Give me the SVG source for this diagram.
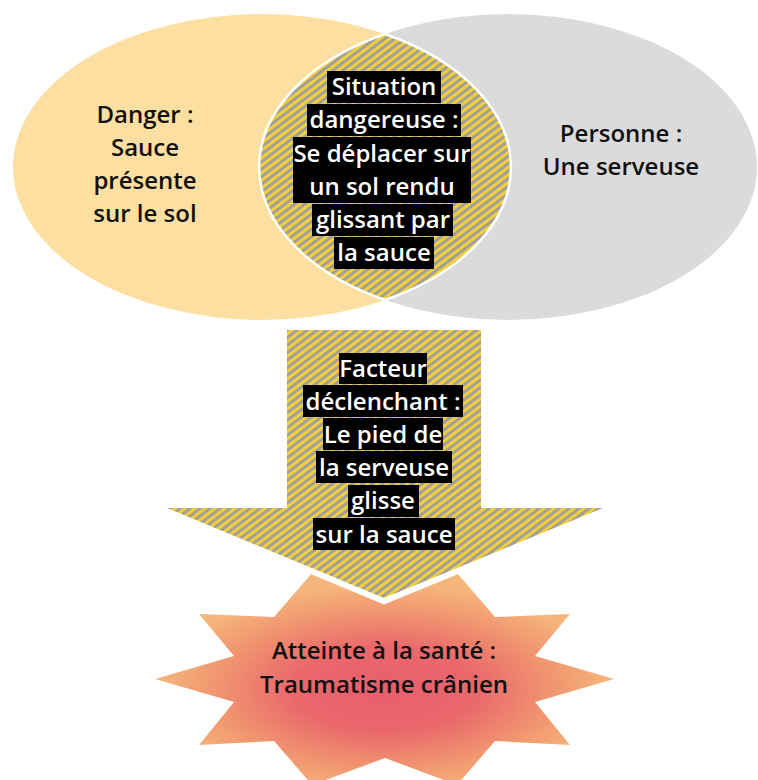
<svg xmlns="http://www.w3.org/2000/svg" width="758" height="780" viewBox="0 0 758 780">
  <defs>
    <pattern id="hatch" width="10" height="6" patternUnits="userSpaceOnUse" patternTransform="rotate(-37)">
      <rect width="10" height="6" fill="#A29F9A"/>
      <rect width="10" height="3" fill="#F1CF3B"/>
    </pattern>
    <radialGradient id="burst" cx="0.5" cy="0.55" r="0.5">
      <stop offset="0" stop-color="#E85E6C"/>
      <stop offset="0.4" stop-color="#EA686C"/>
      <stop offset="0.72" stop-color="#F0946F"/>
      <stop offset="1" stop-color="#F6B67B"/>
    </radialGradient>
    <style>
      .t { font-family: "Open Sans", "Noto Sans", "Liberation Sans", sans-serif; font-weight: 600; font-size: 24px; text-anchor: middle; }
      .dark { fill: #111111; }
      .light { fill: #FFFFFF; }
      .box { fill: #000000; }
    </style>
  </defs>

  <g id="danger">
    <ellipse cx="262" cy="167" rx="249" ry="153" fill="#FDDFA2"/>
    <text class="t dark" x="145" y="123">Danger :</text>
    <text class="t dark" x="145" y="156">Sauce</text>
    <text class="t dark" x="145" y="189">présente</text>
    <text class="t dark" x="145" y="222">sur le sol</text>
  </g>

  <g id="personne">
    <ellipse cx="508" cy="167" rx="249" ry="153" fill="#DBDBDB"/>
    <text class="t dark" x="621" y="142">Personne :</text>
    <text class="t dark" x="621" y="175">Une serveuse</text>
  </g>

  <g id="situation-dangereuse">
    <path d="M385,34 A249,153 0 0 1 385,300 A249,153 0 0 1 385,34 Z" fill="url(#hatch)" stroke="#FFFFFF" stroke-width="2.5"/>
    <rect class="box" x="327" y="71" width="114" height="32"/>
    <rect class="box" x="307" y="104" width="154" height="32"/>
    <rect class="box" x="293" y="137" width="178" height="66"/>
    <rect class="box" x="312" y="204" width="141" height="32"/>
    <rect class="box" x="334" y="237" width="100" height="32"/>
    <text class="t light" x="384" y="95">Situation</text>
    <text class="t light" x="384" y="128">dangereuse :</text>
    <text class="t light" x="382" y="162">Se déplacer sur</text>
    <text class="t light" x="382" y="195">un sol rendu</text>
    <text class="t light" x="383" y="228">glissant par</text>
    <text class="t light" x="384" y="261">la sauce</text>
  </g>

  <g id="atteinte-sante">
    <polygon fill="url(#burst)" points="155,679 234,656 199,614 274,617 312,573 385,600 457,573 495,617 570,614 535,656 614,679 535,702 570,745 495,741 457,785 385,758 312,785 274,741 199,745 234,702"/>
    <text class="t dark" x="384" y="659">Atteinte à la santé :</text>
    <text class="t dark" x="384" y="693">Traumatisme crânien</text>
  </g>

  <g id="connectors">
    <g id="facteur-declenchant">
      <path d="M287,330 L481,330 L481,508 L603,508 L384,598 L167,508 L287,508 Z" fill="none" stroke="#FFFFFF" stroke-width="12" stroke-linejoin="miter"/>
      <path d="M287,330 L481,330 L481,508 L603,508 L384,598 L167,508 L287,508 Z" fill="url(#hatch)"/>
      <rect class="box" x="339" y="353" width="88" height="31"/>
      <rect class="box" x="303" y="385" width="160" height="32"/>
      <rect class="box" x="323" y="418" width="120" height="32"/>
      <rect class="box" x="316" y="451" width="136" height="32"/>
      <rect class="box" x="348" y="485" width="71" height="32"/>
      <rect class="box" x="313" y="518" width="142" height="32"/>
      <text class="t light" x="383" y="377">Facteur</text>
      <text class="t light" x="383" y="410">déclenchant :</text>
      <text class="t light" x="383" y="443">Le pied de</text>
      <text class="t light" x="384" y="476">la serveuse</text>
      <text class="t light" x="383" y="509">glisse</text>
      <text class="t light" x="384" y="543">sur la sauce</text>
    </g>
  </g>
</svg>
